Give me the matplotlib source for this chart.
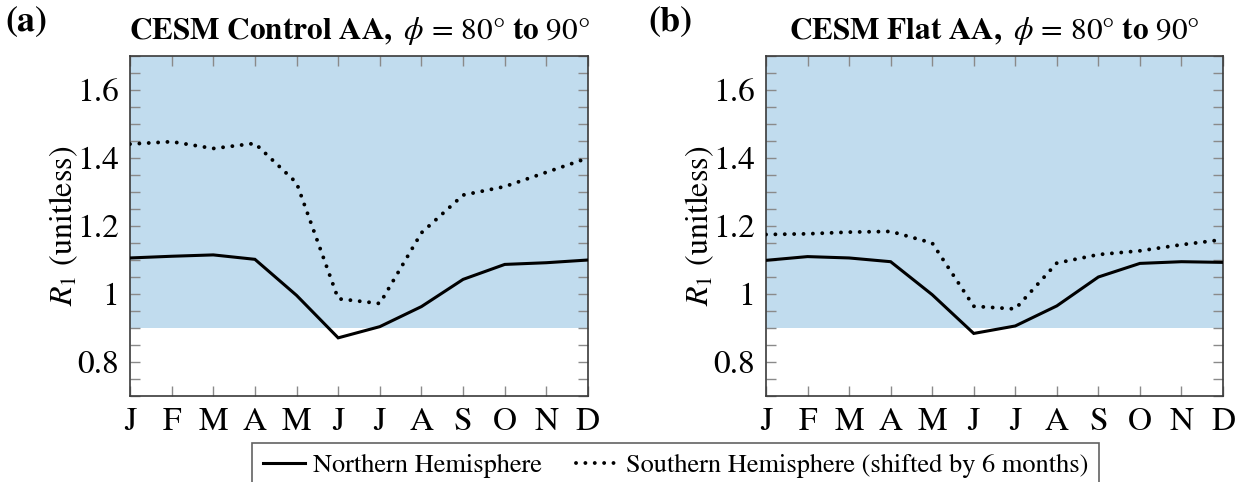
import matplotlib
matplotlib.use("Agg")
import matplotlib.pyplot as plt
from matplotlib.ticker import MultipleLocator, FixedLocator

plt.rcParams['font.family'] = ['STIXGeneral', 'Liberation Serif', 'DejaVu Serif']
plt.rcParams['mathtext.fontset'] = 'stix'

# Month labels
months = ["J", "F", "M", "A", "M", "J", "J", "A", "S", "O", "N", "D"]

# Polar-cap (80-90 deg) R1 seasonal cycle, CESM control run
control_nh = [1.106, 1.111, 1.115, 1.102, 0.996, 0.871, 0.904, 0.963, 1.043, 1.087, 1.092, 1.100]
control_sh = [1.441, 1.448, 1.428, 1.443, 1.327, 0.986, 0.972, 1.180, 1.291, 1.316, 1.358, 1.400]

# Same for the flat-topography run
flat_nh = [1.099, 1.110, 1.106, 1.095, 0.998, 0.884, 0.906, 0.965, 1.050, 1.090, 1.095, 1.093]
flat_sh = [1.175, 1.177, 1.182, 1.184, 1.150, 0.964, 0.956, 1.091, 1.116, 1.127, 1.145, 1.160]

# Regime threshold (shaded above)
r1_threshold = 0.9
y_min, y_max = 0.7, 1.7
y_labels = [0.8, 1.0, 1.2, 1.4, 1.6]

panels = [
    ("(a)", r"$\mathbf{CESM\ Control\ AA,}\ \phi\,=\,80$°$\ \mathbf{to}\ 90$°", control_nh, control_sh),
    ("(b)", r"$\mathbf{CESM\ Flat\ AA,}\ \phi\,=\,80$°$\ \mathbf{to}\ 90$°", flat_nh, flat_sh),
]

W, H = 1248, 482
fig = plt.figure(figsize=(W / 100, H / 100), dpi=100)

shade = "#c1dcee"
spine_col = "#3a3a3a"
tick_col = "#8a8a8a"

axes_px = [(130, 56, 588, 396), (766, 56, 1223, 396)]
label_x = [5, 648]

handles = None
for (tag, title, nh, sh), (x0, y0, x1, y1), lx in zip(panels, axes_px, label_x):
    ax = fig.add_axes([x0 / W, 1 - y1 / H, (x1 - x0) / W, (y1 - y0) / H])
    x = list(range(len(months)))
    ax.axhspan(r1_threshold, y_max, color=shade, lw=0, zorder=0)
    l1, = ax.plot(x, nh, color="black", lw=2.2, solid_joinstyle="miter", zorder=3)
    l2, = ax.plot(x, sh, color="black", lw=2.8, linestyle=(0, (0.01, 2.4)),
                  dash_capstyle="round", zorder=3)
    handles = (l1, l2)
    ax.set_xlim(0, len(months) - 1)
    ax.set_ylim(y_min, y_max)
    ax.set_xticks(x)
    ax.set_xticklabels(months)
    ax.yaxis.set_major_locator(FixedLocator(y_labels))
    ax.set_yticklabels(["0.8", "1", "1.2", "1.4", "1.6"])
    ax.yaxis.set_minor_locator(MultipleLocator(0.05))
    ax.tick_params(axis="both", which="both", direction="in", top=True, right=True,
                   color=tick_col, width=1.0, labelsize=24)
    ax.tick_params(axis="both", which="major", length=7, pad=8)
    ax.tick_params(axis="y", which="minor", length=7)
    for s in ax.spines.values():
        s.set_color(spine_col)
        s.set_linewidth(1.2)
    ax.set_ylabel(r"$R_1$ (unitless)", fontsize=23, labelpad=-2)
    ax.set_title(title, fontsize=22.5, pad=12)
    fig.text(lx / W, 1 - 22 / H, tag, fontsize=26, fontweight="bold", va="center", ha="left")

leg = fig.legend(handles, ["Northern Hemisphere", "Southern Hemisphere (shifted by 6 months)"],
                 loc="upper left", bbox_to_anchor=(252 / W, 1 - 443 / H), bbox_transform=fig.transFigure,
                 ncol=2, fontsize=19, frameon=True, fancybox=False, borderaxespad=0,
                 handlelength=1.6, columnspacing=1.3, handletextpad=0.3, borderpad=0.4)
leg.get_frame().set_edgecolor(spine_col)
leg.get_frame().set_linewidth(1.2)

fig.savefig("out.png", dpi=100)
